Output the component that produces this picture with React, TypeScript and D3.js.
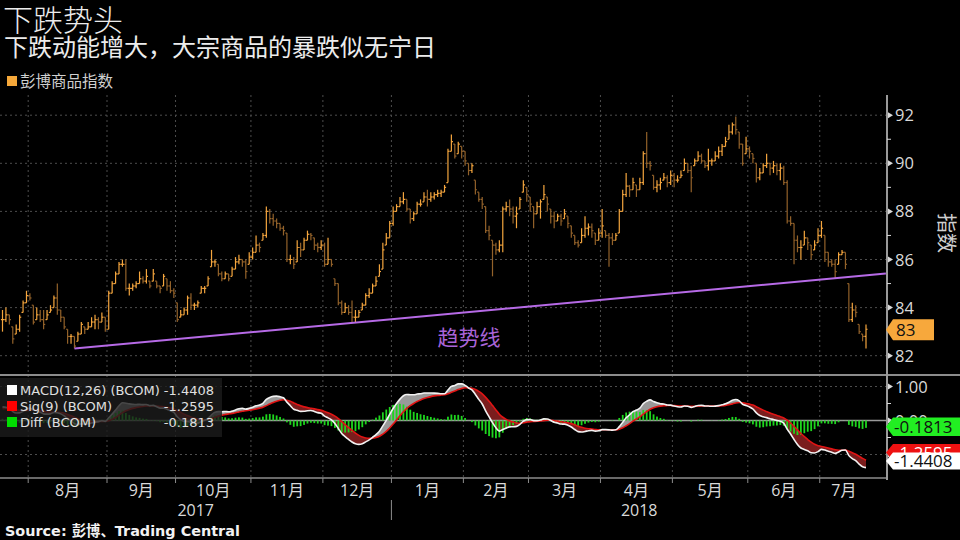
import React from 'react';
import * as d3 from 'd3';

// ---- data (daily OHLC of the Bloomberg Commodity Index, Jul 2017 - Jul 2018)
const closes = [
  83.5, 83.7, 83.5, 82.7, 83.1, 83.6, 84.2, 84.5,
  84.4, 83.4, 83.7, 83.5, 83.3, 83.7, 83.9, 84.4, 83.9, 83.6, 83.2, 82.8, 82.8, 82.4, 82.9, 83.3, 83.1, 83.2, 83.4, 83.5, 83.4, 83.6, 83.1,
  84.6, 85.0, 85.4, 85.8, 85.8, 84.8, 84.8, 84.9, 85.0, 85.2, 85.1, 85.3, 84.9, 85.4, 84.9, 84.8, 85.3, 84.9, 84.7, 84.6,
  83.5, 83.7, 83.9, 84.4, 84.1, 84.1, 84.2, 84.8, 84.8, 85.2, 85.9, 85.9, 85.4, 85.2, 85.4, 85.2, 85.6, 85.9, 86.0, 85.9, 85.5, 86.1,
  86.3, 86.6, 86.5, 87.0, 88.0, 87.7, 87.6, 87.5, 87.3, 87.2, 86.0, 86.0, 85.8, 86.5, 86.4, 86.8, 87.05, 87.0, 86.6, 86.5, 86.6,
  85.8, 86.0, 85.8, 85.0, 84.2, 83.8, 84.0, 83.8, 83.6, 83.6, 83.8, 84.1, 84.5, 84.6, 84.9, 85.1, 85.5, 86.4, 86.9, 87.5,
  88.0, 88.2, 88.4, 88.5, 88.1, 87.7, 87.9, 88.3, 88.3, 88.6, 88.5, 88.6, 88.7, 88.75, 88.8, 89.0, 90.5, 90.9, 90.3, 90.8, 90.5,
  90.1, 89.7, 89.9, 88.9, 88.5, 88.3, 87.2, 87.0, 86.6, 86.4, 86.6, 88.1, 88.2, 88.1, 87.8, 87.9, 88.5, 89.1, 88.7,
  88.3, 87.9, 88.2, 88.4, 88.7, 88.3, 87.8, 87.6, 87.8, 87.6, 87.9, 87.5, 87.1, 86.7, 86.6, 87.0, 87.3, 87.35, 87.2, 86.8, 87.1,
  87.4, 87.0, 86.9, 86.8, 87.0, 88.0, 88.7, 89.05, 88.9, 89.2, 88.9, 89.2, 90.4, 90.0, 89.9, 89.0, 89.1, 89.2, 89.4, 89.2, 89.5,
  89.3, 89.3, 89.5, 90.0, 89.7, 89.4, 90.1, 90.3, 90.1, 89.9, 90.1, 90.1, 90.3, 90.5, 90.7, 90.9, 91.3, 91.6, 91.4, 90.8, 90.0, 90.6,
  90.5, 90.2, 89.4, 89.6, 89.9, 90.0, 89.8, 89.9, 89.7, 89.8, 89.2, 87.6, 87.5, 86.8, 86.5, 86.5, 86.9, 86.7, 86.2, 86.6, 87.0,
  87.3, 86.3, 85.9, 85.8, 85.5, 86.2, 86.3, 85.8, 83.5, 83.9, 83.8, 83.0, 82.8, 83.1,
];
const highs = [
  83.9, 84.0, 83.7, 83.2, 83.3, 83.7, 84.3, 84.7,
  84.6, 84.1, 84.0, 83.9, 83.9, 83.9, 84.1, 84.5, 85.0, 83.9, 83.6, 83.1, 82.9, 82.8, 83.0, 83.4, 83.2, 83.4, 83.6, 83.7, 83.6, 83.8, 83.6,
  84.7, 85.1, 85.5, 85.9, 86.0, 86.0, 85.0, 85.0, 85.1, 85.5, 85.3, 85.6, 85.1, 85.6, 85.1, 84.9, 85.4, 85.2, 85.1, 84.8,
  84.2, 83.9, 84.0, 84.5, 84.6, 84.2, 84.3, 84.9, 84.9, 85.3, 86.4, 86.0, 85.8, 85.5, 85.5, 85.4, 85.7, 86.1, 86.2, 86.0, 86.0, 86.3,
  86.5, 87.0, 86.7, 87.1, 88.2, 88.1, 87.9, 87.7, 87.5, 87.4, 87.1, 86.2, 86.1, 86.8, 86.7, 86.9, 87.2, 87.1, 86.9, 86.7, 86.8,
  86.7, 86.9, 86.0, 85.2, 85.0, 84.3, 84.2, 84.1, 84.3, 83.9, 83.9, 84.2, 84.6, 84.8, 85.0, 85.3, 85.8, 86.7, 87.1, 87.6,
  88.2, 88.3, 88.6, 88.8, 88.5, 88.1, 88.0, 88.4, 88.5, 88.8, 88.9, 88.8, 88.8, 88.9, 88.9, 89.1, 90.6, 91.2, 90.8, 90.9, 90.7,
  90.5, 90.0, 90.0, 89.3, 88.8, 88.6, 88.2, 87.4, 86.8, 86.7, 86.8, 88.2, 88.4, 88.5, 88.2, 88.2, 88.6, 89.3, 89.0,
  88.6, 88.2, 88.4, 88.5, 89.1, 88.6, 88.1, 88.0, 87.9, 87.9, 88.1, 87.8, 87.4, 87.0, 86.8, 87.3, 87.8, 87.5, 87.5, 87.1, 87.3,
  88.1, 87.2, 87.1, 87.1, 87.1, 88.1, 88.9, 89.6, 89.1, 89.4, 89.1, 89.4, 90.5, 91.3, 90.1, 89.5, 89.3, 89.4, 89.6, 89.5, 89.7,
  89.6, 89.5, 89.7, 90.2, 90.0, 89.9, 90.2, 90.5, 90.4, 90.1, 90.6, 90.2, 90.5, 90.7, 90.8, 91.1, 91.6, 91.7, 91.95, 91.3, 90.8, 91.1,
  90.7, 90.4, 90.0, 89.8, 90.0, 90.4, 90.0, 90.1, 90.0, 90.0, 89.9, 89.3, 87.8, 87.5, 87.0, 86.8, 87.2, 86.9, 86.6, 86.8, 87.3,
  87.6, 87.0, 86.3, 86.0, 86.0, 86.3, 86.4, 86.3, 85.0, 84.2, 84.1, 83.3, 82.9, 83.3,
];
const lows = [
  83.0, 83.4, 83.3, 82.5, 82.9, 83.0, 83.8, 84.2,
  84.3, 83.3, 83.5, 83.4, 83.1, 83.5, 83.8, 84.0, 83.7, 83.4, 83.1, 82.5, 82.5, 82.3, 82.6, 82.9, 82.9, 83.1, 83.2, 83.1, 83.1, 83.4, 83.0,
  83.1, 84.6, 85.0, 85.4, 85.7, 84.7, 84.5, 84.7, 84.8, 85.0, 85.0, 85.0, 84.8, 85.1, 84.8, 84.6, 84.9, 84.7, 84.6, 84.4,
  83.4, 83.6, 83.7, 83.7, 83.9, 83.9, 84.0, 84.6, 84.6, 84.9, 85.7, 85.7, 85.3, 85.1, 85.2, 85.1, 85.3, 85.6, 85.8, 85.7, 85.2, 85.8,
  86.0, 86.3, 86.3, 86.8, 86.9, 87.5, 87.4, 87.3, 87.2, 87.0, 85.9, 85.8, 85.6, 85.9, 86.1, 86.4, 86.8, 86.8, 86.4, 86.3, 86.4,
  85.7, 85.8, 85.7, 84.9, 84.1, 83.7, 83.8, 83.7, 83.4, 83.4, 83.6, 83.9, 84.1, 84.4, 84.6, 84.9, 85.3, 85.6, 86.6, 86.9,
  87.4, 88.0, 88.2, 88.3, 88.0, 87.5, 87.6, 87.9, 88.2, 88.4, 88.2, 88.4, 88.5, 88.6, 88.6, 88.8, 89.2, 90.5, 90.2, 90.4, 90.2,
  89.9, 89.5, 89.6, 88.7, 88.4, 88.1, 87.1, 86.8, 85.3, 86.2, 86.3, 86.3, 88.0, 87.8, 87.5, 87.3, 88.1, 88.8, 88.4,
  88.0, 87.3, 87.9, 87.7, 88.5, 88.0, 87.5, 87.3, 87.6, 87.4, 87.7, 87.3, 86.9, 86.6, 86.5, 86.7, 86.9, 87.0, 86.9, 86.6, 86.8,
  86.9, 86.9, 85.7, 86.6, 86.8, 87.1, 88.0, 88.6, 88.6, 88.9, 88.6, 88.9, 89.1, 89.8, 89.7, 88.9, 88.8, 88.9, 89.3, 89.0, 89.1,
  89.0, 89.2, 89.4, 89.7, 89.6, 88.8, 89.9, 90.1, 90.0, 89.8, 89.7, 89.9, 90.1, 90.2, 90.3, 90.7, 91.0, 91.2, 91.2, 90.6, 89.9, 90.4,
  90.2, 90.0, 89.2, 89.3, 89.6, 89.8, 89.5, 89.6, 89.5, 89.3, 89.1, 87.5, 87.4, 85.8, 86.3, 86.0, 86.6, 86.4, 86.0, 86.4, 86.7,
  86.9, 85.9, 85.7, 85.7, 85.2, 85.8, 86.2, 85.6, 83.4, 83.4, 83.6, 82.9, 82.6, 82.3,
];

const monthLabels = ['8月', '9月', '10月', '11月', '12月', '1月', '2月', '3月', '4月', '5月', '6月', '7月'];
const monthStartIndex = [8, 31, 51, 73, 94, 114, 135, 154, 175, 196, 218, 239];
const yearLabels = ['2017', '2018'];
const yearBreakMonth = 5; // 1月 starts 2018
const priceTicks = [82, 84, 86, 88, 90, 92];
const priceMinorTicks = [83, 85, 87, 89, 91];
const macdTicks = [1, 0, -1];
const macdTickLabels = ['1.00', '0.00', '-1.00'];
const macdMinorTicks = [0.5, -0.5];
const trendIdx = [21, 257.8];
const trendVal = [82.3, 85.42];
const macdSeed = 0.4;
const sigSeed = 0.35;
const legendNames = ['MACD(12,26) (BCOM)', 'Sig(9) (BCOM)', 'Diff (BCOM)'];
const legendValues = ['-1.4408', '-1.2595', '-0.1813'];
const lastMacd = [-1.4408, -1.2595, -0.1813];
const lastPrice = 83.08;

export default function App() {
  const n = closes.length;
  const axisX = 887;
  const x = d3.scaleLinear().domain([0, n - 1]).range([2.5, 866]);
  const yP = d3.scaleLinear().domain([82, 92]).range([355.7, 115.2]);
  const yM = d3.scaleLinear().domain([-1, 1]).range([454.5, 386.5]);
  const pTop = 95, pBot = 375, mTop = 376, mBot = 478;

  const opens = closes.map((c, i) =>
    i === 0 ? c : Math.min(highs[i], Math.max(lows[i], closes[i - 1]))
  );

  // MACD(12,26), signal 9
  const a12 = 2 / 13, a26 = 2 / 27, a9 = 2 / 10;
  let e12 = closes[0];
  let e26 = closes[0] - macdSeed;
  let s = sigSeed;
  const macd: number[] = [];
  const sig: number[] = [];
  closes.forEach((c, i) => {
    if (i > 0) {
      e12 += a12 * (c - e12);
      e26 += a26 * (c - e26);
    }
    const m = e12 - e26;
    if (i > 0) s += a9 * (m - s);
    macd.push(m);
    sig.push(s);
  });
  const idx = d3.range(n);
  const lineM = d3.line<number>().x((i) => x(i)).y((i) => yM(macd[i])).curve(d3.curveMonotoneX);
  const lineS = d3.line<number>().x((i) => x(i)).y((i) => yM(sig[i])).curve(d3.curveMonotoneX);
  const band = d3.area<number>().x((i) => x(i)).y0((i) => yM(sig[i])).y1((i) => yM(macd[i])).curve(d3.curveMonotoneX);
  const aboveSig = d3.area<number>().x((i) => x(i)).y0(mTop).y1((i) => yM(sig[i])).curve(d3.curveMonotoneX);
  const belowSig = d3.area<number>().x((i) => x(i)).y0(mBot).y1((i) => yM(sig[i])).curve(d3.curveMonotoneX);

  const monthX = monthStartIndex.map((k) => x(k - 0.5));
  const yearBreakX = monthX[yearBreakMonth];
  const yearCenters = [(0 + yearBreakX) / 2, (yearBreakX + axisX) / 2];

  const grid = '#4d4d4d';
  const txt = '#d9d9d9';
  const numFont = '"Open Sans", "Noto Sans CJK SC", sans-serif';
  const cjk = '"Noto Sans CJK SC", sans-serif';

  const boxPath = (yc: number, h: number, right: number) =>
    `M${axisX - 1},${yc} L${axisX + 6},${yc - h / 2} L${right},${yc - h / 2} L${right},${yc + h / 2} L${axisX + 6},${yc + h / 2} Z`;

  const greenY = yM(lastMacd[2]);
  const whiteY = 461;
  const redY = 452.5;

  return (
    <div style={{ position: 'fixed', left: 0, top: 0, width: 960, height: 540, background: '#000' }}>
      <svg width={960} height={540} style={{ display: 'block' }}>
        <defs>
          <clipPath id="plotP"><rect x={0} y={pTop} width={axisX} height={pBot - pTop} /></clipPath>
          <clipPath id="plotM"><rect x={0} y={mTop} width={axisX} height={mBot - mTop} /></clipPath>
          <clipPath id="above"><path d={aboveSig(idx) || ''} /></clipPath>
          <clipPath id="below"><path d={belowSig(idx) || ''} /></clipPath>
        </defs>
        <rect width={960} height={540} fill="#000" />

        {/* titles */}
        <text x={3} y={31} fill="#ececec" fontFamily={cjk} fontSize={30} fontWeight={300}>下跌势头</text>
        <text x={4} y={56} fill="#ececec" fontFamily={cjk} fontSize={24}>下跌动能增大，大宗商品的暴跌似无宁日</text>
        <rect x={7} y={76} width={10} height={10} fill="#f5a83a" />
        <text x={20} y={87} fill="#cfcfcf" fontFamily={cjk} fontSize={15.5}>彭博商品指数</text>

        {/* grids */}
        {priceTicks.map((v) => (
          <line key={'pg' + v} x1={0} x2={axisX} y1={yP(v)} y2={yP(v)} stroke={grid} strokeDasharray="2,3" />
        ))}
        {[1, -1].map((v) => (
          <line key={'mg' + v} x1={0} x2={axisX} y1={yM(v)} y2={yM(v)} stroke={grid} strokeDasharray="2,3" />
        ))}
        {monthX.map((mx, i) => (
          <line key={'vg' + i} x1={mx} x2={mx} y1={pTop} y2={mBot} stroke={grid} strokeDasharray="2,3" />
        ))}

        {/* price bars */}
        <g clipPath="url(#plotP)">
          {closes.map((c, i) => {
            const o = opens[i];
            const col = c >= o ? '#f5a63e' : '#93622a';
            const cx = x(i);
            return (
              <g key={i} stroke={col} strokeWidth={1.2}>
                <line x1={cx} x2={cx} y1={yP(highs[i])} y2={yP(lows[i])} />
                <line x1={cx - 1.6} x2={cx} y1={yP(o)} y2={yP(o)} />
                <line x1={cx} x2={cx + 1.6} y1={yP(c)} y2={yP(c)} />
              </g>
            );
          })}
          <line x1={x(trendIdx[0])} x2={x(trendIdx[1])} y1={yP(trendVal[0])} y2={yP(trendVal[1])} stroke="#b66ae6" strokeWidth={2} />
        </g>
        <text x={469} y={345} textAnchor="middle" fill="#a964d8" fontFamily={cjk} fontSize={21}>趋势线</text>

        {/* MACD panel */}
        <g clipPath="url(#plotM)">
          <path d={band(idx) || ''} fill="#999999" clipPath="url(#above)" />
          <path d={band(idx) || ''} fill="#7a1d1d" clipPath="url(#below)" />
          <line x1={0} x2={axisX} y1={yM(0)} y2={yM(0)} stroke="#9a9a9a" strokeWidth={1.5} />
          {idx.map((i) => {
            const d = macd[i] - sig[i];
            const y0 = yM(0), y1 = yM(d);
            return <rect key={'h' + i} x={x(i) - 0.9} width={1.8} y={Math.min(y0, y1)} height={Math.abs(y1 - y0)} fill="#1ed61e" />;
          })}
          <path d={lineS(idx) || ''} fill="none" stroke="#e01414" strokeWidth={1.6} />
          <path d={lineM(idx) || ''} fill="none" stroke="#f2f2f2" strokeWidth={1.6} />
        </g>

        {/* MACD legend */}
        <rect x={0} y={378} width={222} height={59} fill="#1b1b1b" opacity={0.8} />
        {legendNames.map((name, i) => {
          const cy = 390 + i * 16;
          const col = ['#ffffff', '#ff0000', '#00dd00'][i];
          return (
            <g key={name}>
              <rect x={7} y={cy - 5} width={10} height={10} fill={col} />
              <text x={20} y={cy + 5} fill="#e0e0e0" fontFamily='"DejaVu Sans", sans-serif' fontSize={13}>{name}</text>
              <text x={214} y={cy + 5} textAnchor="end" fill="#e0e0e0" fontFamily='"DejaVu Sans", sans-serif' fontSize={13}>{legendValues[i]}</text>
            </g>
          );
        })}

        {/* panel frame */}
        <line x1={0} x2={960} y1={375} y2={375} stroke="#8c8c8c" strokeWidth={2} />
        <line x1={0} x2={axisX} y1={mBot} y2={mBot} stroke="#8c8c8c" strokeWidth={1.5} />
        <line x1={axisX} x2={axisX} y1={pTop} y2={mBot + 2} stroke="#9a9a9a" strokeWidth={2} />

        {/* right price axis */}
        {priceTicks.map((v) => (
          <g key={'pt' + v}>
            <path d={`M${axisX + 1},${yP(v) - 3} L${axisX + 6},${yP(v)} L${axisX + 1},${yP(v) + 3} Z`} fill={txt} />
            <text x={895} y={yP(v) + 6} fill={txt} fontFamily={numFont} fontSize={16.5}>{v}</text>
          </g>
        ))}
        {priceMinorTicks.map((v) => (
          <line key={'pm' + v} x1={axisX} x2={axisX + 4} y1={yP(v)} y2={yP(v)} stroke={txt} />
        ))}
        <text transform="translate(939,233) rotate(90)" textAnchor="middle" fill="#cfcfcf" fontFamily={cjk} fontSize={20}>指数</text>

        {/* right MACD axis */}
        {macdTicks.map((v, i) => (
          <g key={'mt' + v}>
            <path d={`M${axisX + 1},${yM(v) - 3} L${axisX + 6},${yM(v)} L${axisX + 1},${yM(v) + 3} Z`} fill={txt} />
            <text x={895} y={yM(v) + 6} fill={txt} fontFamily={numFont} fontSize={16.5}>{macdTickLabels[i]}</text>
          </g>
        ))}
        {macdMinorTicks.map((v) => (
          <line key={'mm' + v} x1={axisX} x2={axisX + 4} y1={yM(v)} y2={yM(v)} stroke={txt} />
        ))}

        {/* value boxes */}
        <path d={boxPath(yP(lastPrice), 21, 934)} fill="#f7a83c" />
        <text x={896} y={yP(lastPrice) + 6.5} fill="#111" fontFamily={numFont} fontSize={17}>83</text>
        <path d={boxPath(greenY, 18.5, 962)} fill="#22ee22" />
        <text x={894} y={greenY + 6} fill="#111" fontFamily={numFont} fontSize={17}>{legendValues[2]}</text>
        <path d={boxPath(redY, 17, 962)} fill="#ee1111" />
        <text x={894} y={redY + 6} fill="#fff" fontFamily={numFont} fontSize={17}>{legendValues[1]}</text>
        <path d={boxPath(whiteY, 17, 962)} fill="#ffffff" />
        <text x={894} y={whiteY + 6} fill="#111" fontFamily={numFont} fontSize={17}>{legendValues[0]}</text>

        {/* x axis */}
        {monthX.map((mx, i) => (
          <line key={'mtk' + i} x1={mx} x2={mx} y1={mBot} y2={mBot + 5} stroke="#8c8c8c" />
        ))}
        {monthLabels.map((m, i) => {
          const left = monthX[i];
          const right = i + 1 < monthX.length ? monthX[i + 1] : x(n - 1) + 2;
          return (
            <text key={m} x={(left + right) / 2} y={496} textAnchor="middle" fill={txt} fontFamily={numFont} fontSize={16}>{m}</text>
          );
        })}
        {yearLabels.map((yl, i) => (
          <text key={yl} x={yearCenters[i]} y={516} textAnchor="middle" fill={txt} fontFamily={numFont} fontSize={16}>{yl}</text>
        ))}
        <line x1={yearBreakX} x2={yearBreakX} y1={500} y2={520} stroke="#8c8c8c" />

        <text x={5} y={536} fill="#f2f2f2" fontFamily='"DejaVu Sans", "Noto Sans CJK SC", sans-serif' fontWeight="bold" fontSize={14.4}>Source: 彭博、Trading Central</text>
      </svg>
    </div>
  );
}
